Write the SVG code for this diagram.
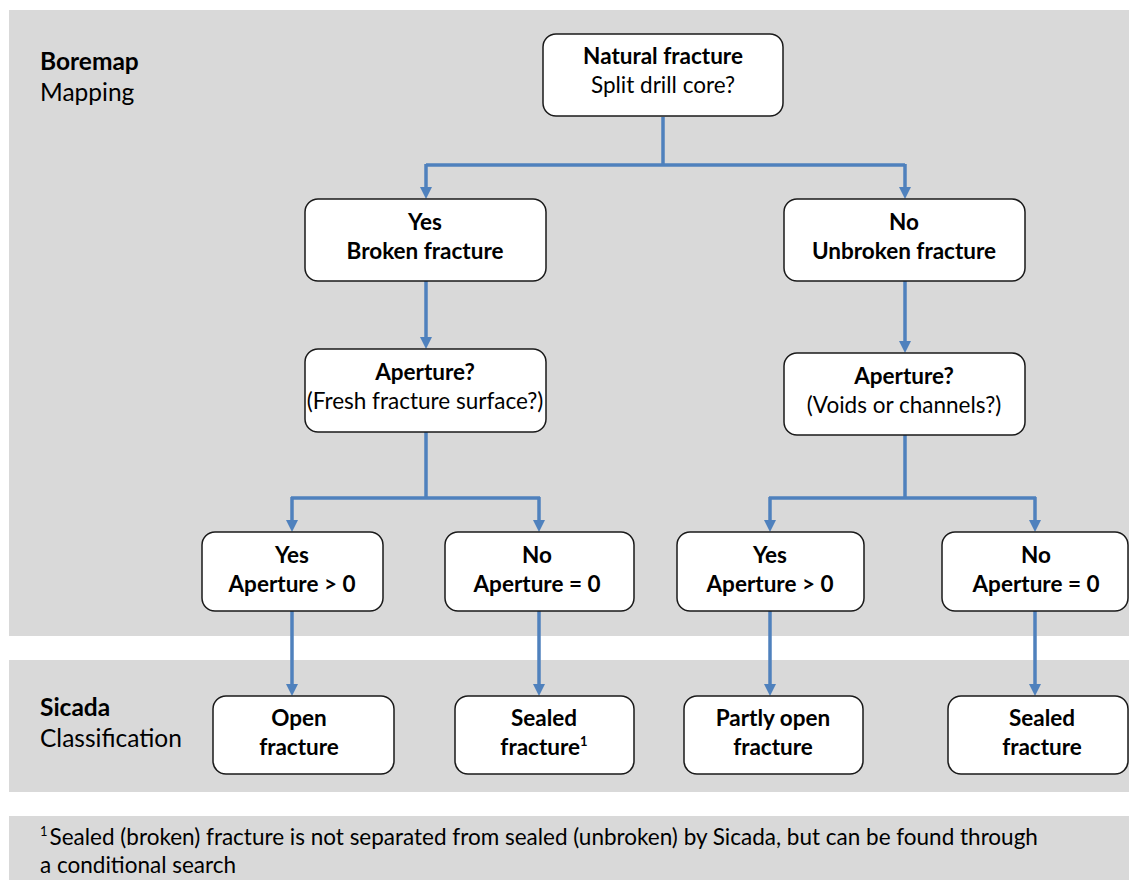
<svg xmlns="http://www.w3.org/2000/svg" width="1129" height="880" viewBox="0 0 1129 880">
<defs>
<style>
.panel{fill:#d9d9d9}
.box{fill:#fff;stroke:#1a1a1a;stroke-width:1.5}
.t{font-family:Lato,"Open Sans","Liberation Sans",sans-serif;font-size:22.5px;fill:#000;text-anchor:middle}
.b{font-weight:bold}
.lbl{font-family:Lato,"Open Sans","Liberation Sans",sans-serif;font-size:24.5px;fill:#000}
.fn{font-family:Lato,"Open Sans","Liberation Sans",sans-serif;font-size:22.5px;fill:#000}
.c{fill:none;stroke:#4f81bd;stroke-width:3.5}
</style>
</defs>
<rect width="1129" height="880" fill="#fff"/>
<rect class="panel" x="9" y="10" width="1120" height="626"/>
<rect class="panel" x="9" y="660" width="1120" height="132"/>
<rect class="panel" x="9" y="816" width="1120" height="64"/>
<g id="label-boremap">
<text class="lbl b" x="40" y="70">Boremap</text>
<text class="lbl" x="40" y="101">Mapping</text>
</g>
<g id="label-sicada">
<text class="lbl b" x="40" y="716">Sicada</text>
<text class="lbl" x="40" y="747">Classification</text>
</g>
<g id="connectors">
<path class="c" d="M663,117 V165 M426,165 H905"/>
<path class="c" d="M426,164 V189"/>
<path class="c" d="M905,164 V189"/>
<path class="c" d="M426,281 V339"/>
<path class="c" d="M905,281 V343"/>
<path class="c" d="M426,432 V498 M291,498 H540"/>
<path class="c" d="M292,497 V522"/>
<path class="c" d="M539,497 V522"/>
<path class="c" d="M905,435 V498 M769,498 H1036"/>
<path class="c" d="M770,497 V522"/>
<path class="c" d="M1035,497 V522"/>
<path class="c" d="M292,611 V686"/>
<path class="c" d="M539,611 V686"/>
<path class="c" d="M770,611 V686"/>
<path class="c" d="M1035,611 V686"/>
<g fill="#4f81bd">
<path d="M420,187 H432 L426,199 Z"/>
<path d="M899,187 H911 L905,199 Z"/>
<path d="M420,337 H432 L426,349 Z"/>
<path d="M899,341 H911 L905,353 Z"/>
<path d="M286,520 H298 L292,532 Z"/>
<path d="M533,520 H545 L539,532 Z"/>
<path d="M764,520 H776 L770,532 Z"/>
<path d="M1029,520 H1041 L1035,532 Z"/>
<path d="M286,684 H298 L292,696 Z"/>
<path d="M533,684 H545 L539,696 Z"/>
<path d="M764,684 H776 L770,696 Z"/>
<path d="M1029,684 H1041 L1035,696 Z"/>
</g>
</g>
<g id="n-natural">
<rect class="box" x="543" y="34" width="240" height="82" rx="13"/>
<text class="t b" x="663" y="64">Natural fracture</text>
<text class="t" x="663" y="93">Split drill core?</text>
</g>
<g id="n-broken">
<rect class="box" x="305" y="199" width="241" height="82" rx="13"/>
<text class="t b" x="425" y="230">Yes</text>
<text class="t b" x="425" y="259">Broken fracture</text>
</g>
<g id="n-unbroken">
<rect class="box" x="784" y="199" width="241" height="82" rx="13"/>
<text class="t b" x="904" y="230">No</text>
<text class="t b" x="904" y="259">Unbroken fracture</text>
</g>
<g id="n-aperture-left">
<rect class="box" x="305" y="349" width="241" height="83" rx="13"/>
<text class="t b" x="425" y="380">Aperture?</text>
<text class="t" x="425" y="409">(Fresh fracture surface?)</text>
</g>
<g id="n-aperture-right">
<rect class="box" x="784" y="353" width="241" height="82" rx="13"/>
<text class="t b" x="904" y="384">Aperture?</text>
<text class="t" x="904" y="413">(Voids or channels?)</text>
</g>
<g id="n-yes-left">
<rect class="box" x="202" y="532" width="181" height="79" rx="13"/>
<text class="t b" x="292" y="563">Yes</text>
<text class="t b" x="292" y="592">Aperture &gt; 0</text>
</g>
<g id="n-no-left">
<rect class="box" x="445" y="532" width="189" height="79" rx="13"/>
<text class="t b" x="537" y="563">No</text>
<text class="t b" x="537" y="592">Aperture = 0</text>
</g>
<g id="n-yes-right">
<rect class="box" x="677" y="532" width="187" height="79" rx="13"/>
<text class="t b" x="770" y="563">Yes</text>
<text class="t b" x="770" y="592">Aperture &gt; 0</text>
</g>
<g id="n-no-right">
<rect class="box" x="942" y="532" width="186" height="79" rx="13"/>
<text class="t b" x="1036" y="563">No</text>
<text class="t b" x="1036" y="592">Aperture = 0</text>
</g>
<g id="n-open">
<rect class="box" x="213" y="696" width="181" height="78" rx="13"/>
<text class="t b" x="299" y="726">Open</text>
<text class="t b" x="299" y="755">fracture</text>
</g>
<g id="n-sealed-1">
<rect class="box" x="455" y="696" width="179" height="78" rx="13"/>
<text class="t b" x="544" y="726">Sealed</text>
<text class="t b" x="544" y="755">fracture<tspan font-size="13" dy="-9">1</tspan></text>
</g>
<g id="n-partly">
<rect class="box" x="684" y="696" width="179" height="78" rx="13"/>
<text class="t b" x="773" y="726">Partly open</text>
<text class="t b" x="773" y="755">fracture</text>
</g>
<g id="n-sealed-2">
<rect class="box" x="948" y="696" width="180" height="78" rx="13"/>
<text class="t b" x="1042" y="726">Sealed</text>
<text class="t b" x="1042" y="755">fracture</text>
</g>
<g id="footnote">
<text class="fn" x="40" y="845"><tspan font-size="13" dy="-9">1</tspan><tspan dy="9" dx="2">Sealed (broken) fracture is not separated from sealed (unbroken) by Sicada, but can be found through</tspan></text>
<text class="fn" x="40" y="873">a conditional search</text>
</g>
</svg>
